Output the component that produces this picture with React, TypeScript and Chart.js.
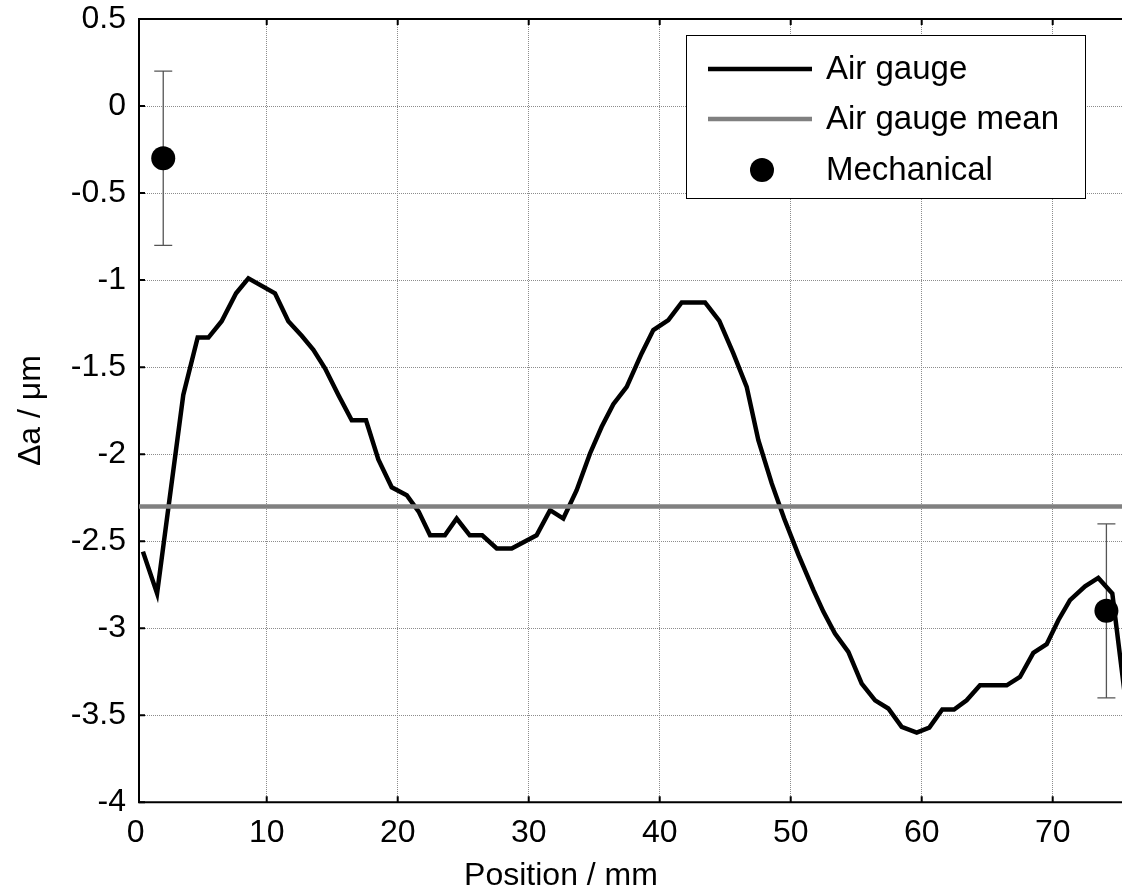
import React, { useEffect, useRef } from "react";
import { Chart, registerables } from "chart.js";

Chart.register(...registerables);

// ---- data ----
const airX = [0.55, 1.63, 3.63, 4.73, 5.55, 6.56, 7.66, 8.6, 10.63, 11.65, 12.67, 13.56, 14.45, 15.47, 16.49, 17.58, 18.52, 19.54, 20.69, 21.6, 22.47, 23.6, 24.5, 25.5, 26.45, 27.56, 28.7, 30.6, 31.63, 32.64, 33.66, 34.68, 35.57, 36.46, 37.48, 38.62, 39.51, 40.66, 41.68, 43.46, 44.55, 45.62, 46.64, 47.53, 48.55, 49.5, 50.6, 51.73, 52.5, 53.38, 54.4, 55.42, 56.44, 57.45, 58.47, 59.62, 60.58, 61.57, 62.47, 63.43, 64.45, 66.49, 67.5, 68.52, 69.54, 70.43, 71.32, 72.47, 73.48, 74.55, 75.6];
const airY = [-2.56, -2.8, -1.66, -1.33, -1.33, -1.236, -1.076, -0.99, -1.076, -1.236, -1.32, -1.4, -1.507, -1.66, -1.805, -1.805, -2.03, -2.19, -2.236, -2.33, -2.466, -2.466, -2.37, -2.466, -2.466, -2.542, -2.542, -2.466, -2.322, -2.37, -2.207, -1.996, -1.843, -1.713, -1.613, -1.421, -1.287, -1.23, -1.128, -1.128, -1.234, -1.421, -1.613, -1.92, -2.168, -2.37, -2.58, -2.78, -2.906, -3.03, -3.136, -3.318, -3.414, -3.461, -3.567, -3.6, -3.571, -3.467, -3.467, -3.414, -3.328, -3.328, -3.28, -3.142, -3.092, -2.954, -2.839, -2.759, -2.711, -2.8, -3.44];
const meanValue = -2.3;
const meanX = [0, 76];
const mechX = [2.1, 74.1];
const mechY = [-0.3, -2.9];
const mechErr = [0.5, 0.5];
const xTicks = [0, 10, 20, 30, 40, 50, 60, 70];
const yTicks = [0.5, 0, -0.5, -1, -1.5, -2, -2.5, -3, -3.5, -4];
const seriesLabels = ["Air gauge", "Air gauge mean", "Mechanical"];
const xTitle = "Position / mm";
const yTitle = "\u0394a / \u03bcm";

const FONT = "'Liberation Sans', Arial, Helvetica, sans-serif";
const GRID = "#8c8c8c";

const framePlugin = {
  id: "frame",
  beforeDatasetsDraw(chart: any) {
    const { ctx, chartArea } = chart;
    const { left, right, top, bottom } = chartArea;
    const xs = chart.scales.x;
    const ys = chart.scales.y;
    ctx.save();
    ctx.strokeStyle = "#000";
    ctx.lineWidth = 2;
    ctx.beginPath();
    ctx.moveTo(right + 2, top);
    ctx.lineTo(left, top);
    ctx.lineTo(left, bottom);
    ctx.lineTo(right + 2, bottom);
    ctx.stroke();
    // inner tick marks
    ctx.beginPath();
    yTicks.forEach((v) => {
      const p = ys.getPixelForValue(v);
      ctx.moveTo(left, p);
      ctx.lineTo(left + 6, p);
    });
    xTicks.forEach((v) => {
      const p = xs.getPixelForValue(v);
      if (p < left) return;
      ctx.moveTo(p, top);
      ctx.lineTo(p, top + 6);
      ctx.moveTo(p, bottom);
      ctx.lineTo(p, bottom - 6);
    });
    ctx.stroke();
    // error bars
    ctx.strokeStyle = "#555";
    ctx.lineWidth = 1.3;
    ctx.beginPath();
    mechX.forEach((xv, i) => {
      const px = xs.getPixelForValue(xv);
      const pTop = ys.getPixelForValue(mechY[i] + mechErr[i]);
      const pBot = ys.getPixelForValue(mechY[i] - mechErr[i]);
      ctx.moveTo(px, pTop);
      ctx.lineTo(px, pBot);
      ctx.moveTo(px - 9, pTop);
      ctx.lineTo(px + 9, pTop);
      ctx.moveTo(px - 9, pBot);
      ctx.lineTo(px + 9, pBot);
    });
    ctx.stroke();
    ctx.restore();
  },
};

const legendPlugin = {
  id: "boxLegend",
  afterDatasetsDraw(chart: any) {
    const { ctx } = chart;
    const ds = chart.data.datasets;
    const bx = 686, by = 35, bw = 399, bh = 163;
    ctx.save();
    ctx.fillStyle = "#fff";
    ctx.fillRect(bx, by, bw, bh);
    ctx.strokeStyle = "#000";
    ctx.lineWidth = 1;
    ctx.strokeRect(bx + 0.5, by + 0.5, bw, bh);
    const rows = [69, 119, 170];
    ctx.font = `33px ${FONT}`;
    ctx.textBaseline = "middle";
    ctx.textAlign = "left";
    ds.forEach((d: any, i: number) => {
      const y = rows[i];
      if (d.showLine === false) {
        ctx.fillStyle = d.backgroundColor;
        ctx.beginPath();
        ctx.arc(762, y, d.pointRadius, 0, Math.PI * 2);
        ctx.fill();
      } else {
        ctx.strokeStyle = d.borderColor;
        ctx.lineWidth = d.borderWidth;
        ctx.beginPath();
        ctx.moveTo(708, y);
        ctx.lineTo(812, y);
        ctx.stroke();
      }
      ctx.fillStyle = "#000";
      ctx.fillText(d.label, 826, y + 1);
    });
    ctx.restore();
  },
};

export default function App() {
  const ref = useRef<HTMLCanvasElement | null>(null);
  useEffect(() => {
    if (!ref.current) return;
    const chart = new Chart(ref.current, {
      type: "line",
      data: {
        datasets: [
          {
            label: seriesLabels[0],
            data: airX.map((x, i) => ({ x, y: airY[i] })),
            borderColor: "#000",
            borderWidth: 4.5,
            pointRadius: 0,
            tension: 0,
            order: 3,
          },
          {
            label: seriesLabels[1],
            data: meanX.map((x) => ({ x, y: meanValue })),
            borderColor: "#808080",
            borderWidth: 4.5,
            pointRadius: 0,
            order: 2,
          },
          {
            label: seriesLabels[2],
            data: mechX.map((x, i) => ({ x, y: mechY[i] })),
            showLine: false,
            pointRadius: 12,
            pointHoverRadius: 12,
            backgroundColor: "#000",
            borderColor: "#000",
            borderWidth: 0,
            order: 1,
          },
        ],
      },
      options: {
        animation: false,
        responsive: true,
        maintainAspectRatio: false,
        layout: { autoPadding: false, padding: { top: 19, left: 0, right: 0, bottom: 0 } },
        plugins: {
          legend: { display: false },
          tooltip: { enabled: false },
          title: {
            display: true,
            position: "bottom",
            text: xTitle,
            color: "#000",
            font: { family: FONT, size: 32, weight: "normal", lineHeight: 1.2 },
            padding: { top: 0, bottom: 0 },
          },
        },
        scales: {
          x: {
            type: "linear",
            min: 0.25,
            max: 75.29,
            afterBuildTicks: (s: any) => {
              s.ticks = xTicks.map((v) => ({ value: v }));
            },
            afterFit: (s: any) => {
              s.height = 54.3;
              s.paddingLeft = 0;
              s.paddingRight = 0;
            },
            ticks: {
              autoSkip: false,
              maxRotation: 0,
              padding: 12,
              color: "#000",
              font: { family: FONT, size: 32 },
              callback: (v: any) => String(v),
            },
            grid: {
              color: (c: any) => (c.tick && c.tick.value === 0 ? "rgba(0,0,0,0)" : GRID),
              lineWidth: 1,
              drawTicks: false,
              tickLength: 0,
            },
            border: { display: false, dash: [1, 1] },
          },
          y: {
            type: "linear",
            min: -4,
            max: 0.5,
            afterBuildTicks: (s: any) => {
              s.ticks = yTicks.map((v) => ({ value: v }));
            },
            afterFit: (s: any) => {
              s.width = 139;
              s.paddingTop = 0;
              s.paddingBottom = 0;
            },
            ticks: {
              autoSkip: false,
              padding: 13,
              color: "#000",
              font: { family: FONT, size: 32 },
              callback: (v: any) => String(v),
            },
            grid: {
              color: GRID,
              lineWidth: 1,
              drawTicks: false,
              tickLength: 0,
            },
            border: { display: false, dash: [1, 1] },
            title: {
              display: true,
              text: yTitle,
              color: "#000",
              font: { family: FONT, size: 32, lineHeight: 1.2 },
              padding: { top: 12, bottom: 0 },
            },
          },
        },
      },
      plugins: [framePlugin, legendPlugin],
    } as any);
    return () => chart.destroy();
  }, []);
  return (
    <div style={{ position: "absolute", left: 0, top: 0, width: 1122, height: 895, background: "#fff", overflow: "hidden" }}>
      <canvas ref={ref} style={{ display: "block" }} />
    </div>
  );
}
